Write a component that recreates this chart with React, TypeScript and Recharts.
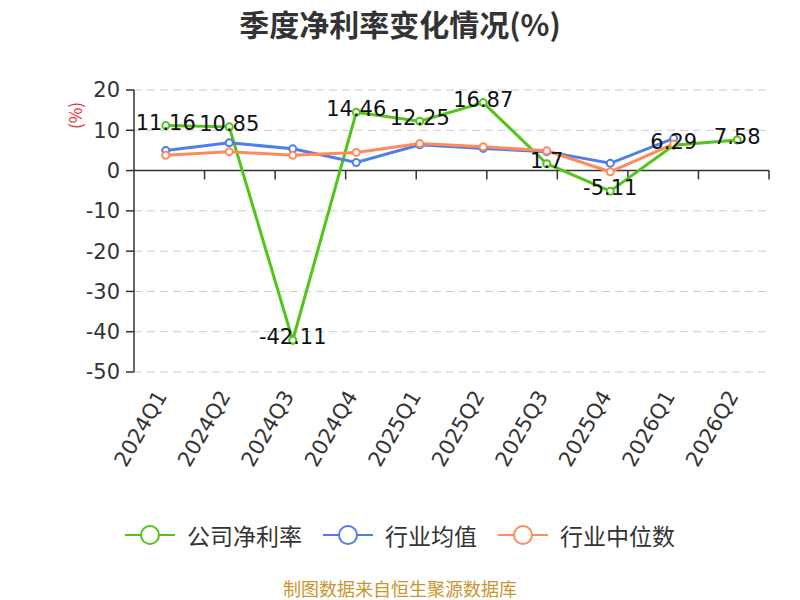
import React from 'react';
import {
  ComposedChart,
  Line,
  XAxis,
  YAxis,
  CartesianGrid,
  ReferenceLine,
  LabelList,
  Legend,
} from 'recharts';

const quarters = ['2024Q1', '2024Q2', '2024Q3', '2024Q4', '2025Q1', '2025Q2', '2025Q3', '2025Q4', '2026Q1', '2026Q2'];
const companyMargin = [11.16, 10.85, -42.11, 14.46, 12.25, 16.87, 1.7, -5.11, 6.29, 7.58];
const industryAvg = [5.0, 6.9, 5.4, 2.0, 6.4, 5.5, 4.7, 1.8, 8.0, null];
const industryMedian = [3.8, 4.7, 3.8, 4.5, 6.7, 5.9, 4.9, -0.3, 6.6, null];
const yTicks = [20, 10, 0, -10, -20, -30, -40, -50];
const bandEdges = [1, 2, 3, 4, 5, 6, 7, 8, 9, 10];

const seriesNames = ['公司净利率', '行业均值', '行业中位数'];
const seriesColors = ['#52c41a', '#4e7fe8', '#ff8a5b'];

const data = quarters.map((q, i) => ({
  q,
  company: companyMargin[i],
  avg: industryAvg[i],
  median: industryMedian[i],
}));

const NUM_FONT = 'DejaVu Sans, sans-serif';
const CJK_FONT = '"Noto Sans CJK SC", sans-serif';

const XTick = (props: any) => {
  const { x, y, payload } = props;
  const ax = x + 2;
  const ay = y + 24;
  return (
    <text
      x={ax}
      y={ay}
      transform={`rotate(-60, ${ax}, ${ay})`}
      textAnchor="end"
      fontSize={21}
      fill="#333"
      fontFamily={NUM_FONT}
    >
      {payload.value}
    </text>
  );
};

const ValueLabel = (props: any) => {
  const { x, y, value } = props;
  if (value === null || value === undefined) return null;
  return (
    <text x={x} y={y + 4} textAnchor="middle" fontSize={21} fill="#111" fontFamily={NUM_FONT}>
      {value}
    </text>
  );
};

const YLabel = (props: any) => {
  const vb = props.viewBox || { x: 74, y: 90 };
  const cx = vb.x + 0.5;
  const cy = vb.y + 25.5;
  return (
    <text
      x={cx}
      y={cy}
      transform={`rotate(-90, ${cx}, ${cy})`}
      textAnchor="middle"
      dominantBaseline="central"
      fontSize={17}
      fill="#e8302e"
      fontFamily={CJK_FONT}
    >
      (%)
    </text>
  );
};

const LegendContent = () => (
  <div
    style={{
      height: 30,
      display: 'flex',
      justifyContent: 'center',
      alignItems: 'center',
      fontFamily: CJK_FONT,
      fontSize: 23,
      color: '#333',
    }}
  >
    {seriesNames.map((n, i) => (
      <div
        key={n}
        style={{ display: 'flex', alignItems: 'center', marginRight: i < seriesNames.length - 1 ? 21 : 0 }}
      >
        <svg width={50} height={24} style={{ marginRight: 12 }}>
          <line x1={0} y1={12} x2={50} y2={12} stroke={seriesColors[i]} strokeWidth={2} />
          <circle cx={25} cy={12} r={9} fill="#fff" stroke={seriesColors[i]} strokeWidth={2} />
        </svg>
        <span style={{ lineHeight: '30px', whiteSpace: 'nowrap' }}>{n}</span>
      </div>
    ))}
  </div>
);

export default function App() {
  return (
    <div style={{ position: 'absolute', left: 0, top: 0, width: 800, height: 600, background: '#fff' }}>
      <div
        style={{
          position: 'absolute',
          top: 5,
          left: 0,
          width: 800,
          textAlign: 'center',
          fontFamily: CJK_FONT,
          fontWeight: 'bold',
          fontSize: 30,
          lineHeight: '36px',
          color: '#333',
        }}
      >
        季度净利率变化情况(%)
      </div>
      <ComposedChart
        width={800}
        height={600}
        data={data}
        margin={{ top: 90, right: 31, left: 74, bottom: 50 }}
      >
        <CartesianGrid vertical={false} stroke="#ccc" strokeDasharray="8 5" />
        <XAxis
          dataKey="q"
          scale="band"
          height={148}
          axisLine={false}
          tickLine={false}
          tickSize={0}
          tickMargin={0}
          interval={0}
          tick={<XTick />}
        />
        <XAxis xAxisId="idx" type="number" domain={[0, 10]} hide />
        <YAxis
          domain={[-50, 20]}
          ticks={yTicks}
          interval={0}
          width={60}
          axisLine={{ stroke: '#333', strokeWidth: 1.5 }}
          tickLine={{ stroke: '#333', strokeWidth: 1.5 }}
          tickSize={8}
          tickMargin={6}
          tick={{ fontSize: 21, fill: '#333', fontFamily: NUM_FONT }}
          label={<YLabel />}
        />
        <ReferenceLine y={0} stroke="#333" strokeWidth={1.5} />
        {bandEdges.map((e) => (
          <ReferenceLine
            key={e}
            xAxisId="idx"
            segment={[
              { x: e, y: 0 },
              { x: e, y: -2.2 },
            ]}
            stroke="#333"
            strokeWidth={1.5}
          />
        ))}
        <Line
          dataKey="company"
          name={seriesNames[0]}
          stroke={seriesColors[0]}
          strokeWidth={3}
          dot={{ r: 3.5, fill: '#fff', stroke: seriesColors[0], strokeWidth: 2 }}
          isAnimationActive={false}
        />
        <Line
          dataKey="avg"
          name={seriesNames[1]}
          stroke={seriesColors[1]}
          strokeWidth={3}
          dot={{ r: 3.5, fill: '#fff', stroke: seriesColors[1], strokeWidth: 2 }}
          isAnimationActive={false}
        />
        <Line
          dataKey="median"
          name={seriesNames[2]}
          stroke={seriesColors[2]}
          strokeWidth={3}
          dot={{ r: 3.5, fill: '#fff', stroke: seriesColors[2], strokeWidth: 2 }}
          isAnimationActive={false}
        />
        <Line
          dataKey="company"
          legendType="none"
          stroke="none"
          dot={false}
          activeDot={false}
          isAnimationActive={false}
        >
          <LabelList dataKey="company" content={<ValueLabel />} />
        </Line>
        <Legend
          verticalAlign="bottom"
          wrapperStyle={{ left: 0, width: 800, bottom: 50 }}
          content={<LegendContent />}
        />
      </ComposedChart>
      <div
        style={{
          position: 'absolute',
          top: 578,
          left: 0,
          width: 800,
          textAlign: 'center',
          fontFamily: CJK_FONT,
          fontSize: 18,
          lineHeight: '20px',
          color: '#c9962e',
        }}
      >
        制图数据来自恒生聚源数据库
      </div>
    </div>
  );
}
